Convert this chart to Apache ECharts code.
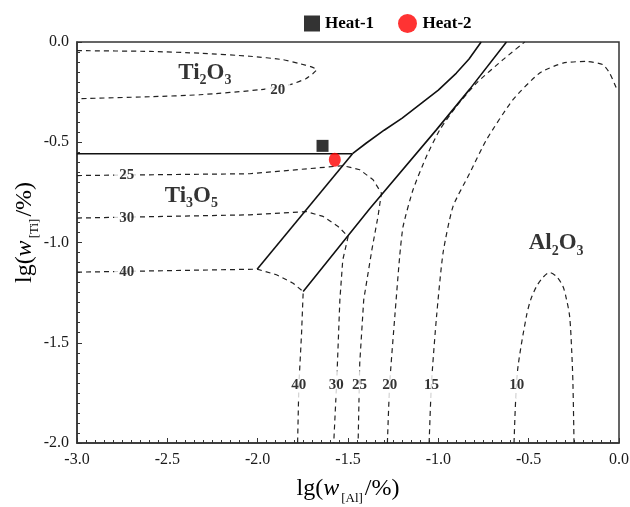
<!DOCTYPE html>
<html>
<head>
<meta charset="utf-8">
<script src="https://cdn.jsdelivr.net/npm/echarts@6/dist/echarts.min.js"></script>
<style>
  html, body { margin: 0; padding: 0; background: #fff; }
  #chart { width: 630px; height: 507px; }
</style>
</head>
<body>
<div id="chart"></div>
<script>
// Measured inclusion compositions
const heat1 = [[-1.641, -0.518]];
const heat2 = [[-1.573, -0.587]];

// Phase boundaries (solid)
const ti2o3Ti3o5Boundary = [[-3.0, -0.557], [-1.475, -0.557]];
const ti2o3Al2o3Boundary = [
  [-1.475, -0.557], [-1.40, -0.505], [-1.30, -0.44], [-1.20, -0.38], [-1.10, -0.31],
  [-1.00, -0.24], [-0.90, -0.155], [-0.83, -0.085], [-0.763, 0.0]
];
const bandLeftBoundary = [[-1.475, -0.557], [-2.003, -1.133]];
const bandRightBoundary = [
  [-1.748, -1.245], [-1.38, -0.832], [-1.01, -0.437], [-0.826, -0.235], [-0.623, 0.0]
];

// Iso-lines (dashed)
const iso20Ti2O3 = [
  [-3.0, -0.043], [-2.596, -0.047], [-2.320, -0.056], [-2.043, -0.071], [-1.861, -0.088],
  [-1.767, -0.108], [-1.706, -0.123], [-1.673, -0.138], [-1.695, -0.158], [-1.733, -0.183],
  [-1.822, -0.213], [-1.988, -0.238], [-2.320, -0.263], [-2.596, -0.273], [-3.0, -0.283]
];
const iso25 = [
  [-3.0, -0.666], [-2.043, -0.657], [-1.527, -0.617], [-1.435, -0.637], [-1.361, -0.687],
  [-1.315, -0.754], [-1.334, -0.870], [-1.368, -1.037], [-1.413, -1.286], [-1.435, -1.601],
  [-1.444, -2.0]
];
const iso30 = [
  [-3.0, -0.878], [-2.043, -0.862], [-1.730, -0.846], [-1.638, -0.870], [-1.555, -0.920],
  [-1.499, -0.970], [-1.529, -1.087], [-1.545, -1.286], [-1.562, -1.685], [-1.579, -2.0]
];
const iso40 = [
  [-3.0, -1.148], [-2.003, -1.133], [-1.896, -1.161], [-1.804, -1.203], [-1.748, -1.245],
  [-1.757, -1.452], [-1.772, -1.710], [-1.779, -2.0]
];
const iso20Al2O3 = [
  [-1.282, -2.0], [-1.269, -1.702], [-1.241, -1.370], [-1.214, -1.070], [-1.195, -0.920],
  [-1.140, -0.737], [-1.066, -0.571], [-0.992, -0.438], [-0.900, -0.321], [-0.789, -0.205],
  [-0.642, -0.088], [-0.522, 0.0]
];
const iso15 = [
  [-1.051, -2.0], [-1.038, -1.702], [-1.010, -1.370], [-0.974, -1.053], [-0.919, -0.821],
  [-0.826, -0.654], [-0.734, -0.488], [-0.587, -0.288], [-0.439, -0.155], [-0.310, -0.105],
  [-0.181, -0.097], [-0.089, -0.113], [-0.052, -0.155], [-0.013, -0.233]
];
const iso10 = [
  [-0.581, -2.0], [-0.572, -1.785], [-0.559, -1.619], [-0.513, -1.370], [-0.489, -1.286],
  [-0.457, -1.220], [-0.423, -1.176], [-0.384, -1.150], [-0.345, -1.171], [-0.310, -1.220],
  [-0.290, -1.286], [-0.273, -1.370], [-0.262, -1.536], [-0.255, -1.702], [-0.249, -2.0]
];

// Iso-line value labels
const rowLabels = [
  { name: '20', value: [-1.889, -0.238] },
  { name: '25', value: [-2.725, -0.664] },
  { name: '30', value: [-2.725, -0.876] },
  { name: '40', value: [-2.725, -1.147] }
];
const columnLabels = [
  { name: '40', value: [-1.772, -1.709] },
  { name: '30', value: [-1.565, -1.709] },
  { name: '25', value: [-1.437, -1.709] },
  { name: '20', value: [-1.269, -1.709] },
  { name: '15', value: [-1.038, -1.709] },
  { name: '10', value: [-0.566, -1.709] }
];

// Stable phase fields
const phaseLabels = [
  { name: '{b|Ti}{s|2}{b|O}{s|3}', value: [-2.292, -0.163] },
  { name: '{b|Ti}{s|3}{b|O}{s|5}', value: [-2.367, -0.777] },
  { name: '{b|Al}{s|2}{b|O}{s|3}', value: [-0.348, -1.012] }
];

const xTicks = { min: -3.0, max: 0.0, step: 0.5 };
const yTicks = { min: -2.0, max: 0.0, step: 0.5 };

const FONT = '"Liberation Serif", "Times New Roman", serif';
const INK = '#1a1a1a';

function solid(data) {
  return {
    type: 'line', data, showSymbol: false, silent: true, z: 3,
    lineStyle: { color: '#111', width: 1.6, type: 'solid' }
  };
}
function dashed(data, smooth) {
  return {
    type: 'line', data, showSymbol: false, silent: true, z: 2, smooth: smooth || false,
    lineStyle: { color: '#222', width: 1.2, type: [5, 4] }
  };
}

// Axis titles: lg(w[X]/%) with a lowered subscript
const axisNameRich = {
  n: { fontFamily: FONT, fontSize: 24, color: '#000', lineHeight: 28, verticalAlign: 'top' },
  i: { fontFamily: FONT, fontSize: 24, color: '#000', lineHeight: 28, verticalAlign: 'top', fontStyle: 'italic' },
  s: { fontFamily: FONT, fontSize: 13, color: '#000', lineHeight: 13, verticalAlign: 'bottom', padding: [30, 2, 0, 2] }
};

const chart = echarts.init(document.getElementById('chart'), null, { renderer: 'canvas' });

chart.setOption({
  animation: false,
  backgroundColor: '#fff',
  textStyle: { fontFamily: FONT },
  grid: {
    left: 77, right: 11, top: 42, bottom: 64,
    containLabel: false, outerBoundsMode: 'none',
    show: true, borderColor: '#333', borderWidth: 1.5
  },
  legend: [
    {
      data: [{ name: 'Heat-1', icon: 'rect' }],
      left: 304, top: 15, itemWidth: 16, itemHeight: 16, padding: 0,
      textStyle: { fontFamily: FONT, fontSize: 17, fontWeight: 'bold', color: '#000' }
    },
    {
      data: [{ name: 'Heat-2', icon: 'circle' }],
      left: 398, top: 14, itemWidth: 20, itemHeight: 19, padding: 0,
      textStyle: { fontFamily: FONT, fontSize: 17, fontWeight: 'bold', color: '#000' }
    }
  ],
  xAxis: {
    type: 'value', min: xTicks.min, max: xTicks.max, interval: xTicks.step,
    axisLine: { show: true, onZero: false, lineStyle: { color: '#333', width: 1.5 } },
    axisTick: { show: true, inside: true, length: 5, lineStyle: { color: '#333', width: 1 } },
    minorTick: { show: true, splitNumber: 10, length: 3, lineStyle: { color: '#333', width: 1 } },
    splitLine: { show: false },
    minorSplitLine: { show: false },
    axisLabel: { color: INK, fontSize: 16, fontFamily: FONT, margin: 9, formatter: v => v.toFixed(1) },
    name: '{n|lg(}{i|w}{s|[Al]}{n|/%)}',
    nameLocation: 'middle', nameGap: 34, nameMoveOverlap: false,
    nameTextStyle: { rich: axisNameRich }
  },
  yAxis: {
    type: 'value', min: yTicks.min, max: yTicks.max, interval: yTicks.step,
    axisLine: { show: true, onZero: false, lineStyle: { color: '#333', width: 1.5 } },
    axisTick: { show: true, inside: true, length: 5, lineStyle: { color: '#333', width: 1 } },
    minorTick: { show: true, splitNumber: 10, length: 3, lineStyle: { color: '#333', width: 1 } },
    splitLine: { show: false },
    minorSplitLine: { show: false },
    axisLabel: { color: INK, fontSize: 16, fontFamily: FONT, margin: 8, formatter: v => v.toFixed(1) },
    name: '{n|lg(}{i|w}{s|[Ti]}{n|/%)}',
    nameLocation: 'middle', nameGap: 36, nameMoveOverlap: false,
    nameTextStyle: { rich: axisNameRich, padding: [0, 0, 0, 20] }
  },
  series: [
    dashed(iso20Ti2O3, 0.2),
    dashed(iso25),
    dashed(iso30),
    dashed(iso40),
    dashed(iso20Al2O3, 0.2),
    dashed(iso15, 0.2),
    dashed(iso10, 0.3),
    solid(ti2o3Ti3o5Boundary),
    solid(ti2o3Al2o3Boundary),
    solid(bandLeftBoundary),
    solid(bandRightBoundary),
    {
      type: 'scatter', data: rowLabels, symbolSize: 0, silent: true, z: 5,
      label: {
        show: true, position: 'inside', formatter: '{b}', color: '#000',
        fontFamily: FONT, fontSize: 15, fontWeight: 'bold',
        backgroundColor: '#fff', padding: [1, 5]
      }
    },
    {
      type: 'scatter', data: columnLabels, symbolSize: 0, silent: true, z: 5,
      label: {
        show: true, position: 'inside', formatter: '{b}', color: '#000',
        fontFamily: FONT, fontSize: 15, fontWeight: 'bold',
        backgroundColor: '#fff', padding: [6, 1]
      }
    },
    {
      type: 'scatter', data: phaseLabels, symbolSize: 0, silent: true, z: 5,
      label: {
        show: true, position: 'inside', formatter: '{b}',
        rich: {
          b: { fontFamily: FONT, fontSize: 23, fontWeight: 'bold', color: '#000', lineHeight: 26, verticalAlign: 'top' },
          s: { fontFamily: FONT, fontSize: 14, fontWeight: 'bold', color: '#000', lineHeight: 26, verticalAlign: 'bottom' }
        }
      }
    },
    {
      name: 'Heat-1', type: 'scatter', data: heat1, symbol: 'rect', symbolSize: 12, z: 6,
      itemStyle: { color: '#000' }
    },
    {
      name: 'Heat-2', type: 'scatter', data: heat2, symbol: 'circle', symbolSize: [12, 14], z: 6,
      itemStyle: { color: '#ff0000' }
    }
  ]
});
</script>
</body>
</html>
